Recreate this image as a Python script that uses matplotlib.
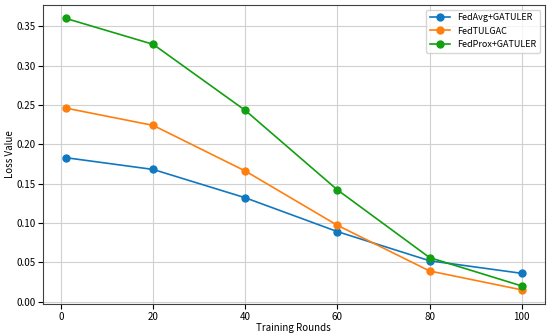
import matplotlib.pyplot as plt

plt.rcParams['font.family'] = ['Noto Sans CJK SC', 'DejaVu Sans']

rounds = [1, 20, 40, 60, 80, 100]
fedavg = [0.183, 0.168, 0.132, 0.089, 0.052, 0.036]
fedtulgac = [0.246, 0.224, 0.166, 0.097, 0.039, 0.015]
fedprox = [0.360, 0.327, 0.243, 0.142, 0.056, 0.020]

fig, ax = plt.subplots(figsize=(5.5, 3.33), dpi=100)
ax.plot(rounds, fedavg, marker='o', markersize=5, lw=1.2, color='#1078c0', label='FedAvg+GATULER')
ax.plot(rounds, fedtulgac, marker='o', markersize=5, lw=1.2, color='#ff7f0e', label='FedTULGAC')
ax.plot(rounds, fedprox, marker='o', markersize=5, lw=1.2, color='#10a010', label='FedProx+GATULER')
ax.set_xticks([0, 20, 40, 60, 80, 100])
ax.set_yticks([0.0, 0.05, 0.10, 0.15, 0.20, 0.25, 0.30, 0.35])
ax.set_ylim(-0.003, 0.377)
ax.tick_params(labelsize=7, pad=2)
ax.set_xlabel('Training Rounds', fontsize=7, labelpad=1)
ax.set_ylabel('Loss Value', fontsize=7, labelpad=1)
ax.grid(True, color='#d0d0d0', lw=0.8)
for s in ax.spines.values():
    s.set_color('#404040')
ax.legend(fontsize=6.5, loc='upper right', handlelength=2.2)
fig.subplots_adjust(left=0.078, right=0.99, top=0.985, bottom=0.087)
fig.savefig('out.png')
